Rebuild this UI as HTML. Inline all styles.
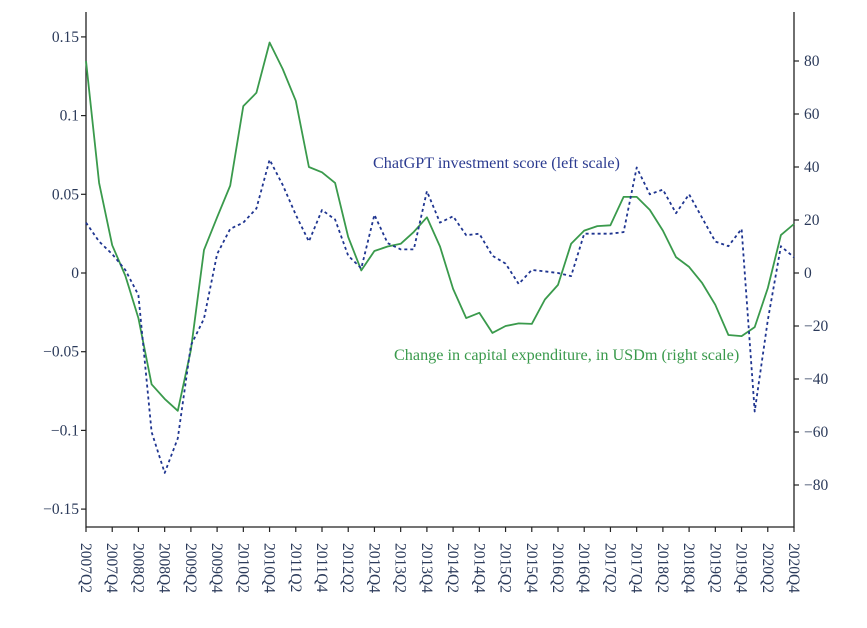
<!DOCTYPE html>
<html><head><meta charset="utf-8">
<style>
html,body{margin:0;padding:0;background:#fff;}
svg text{font-family:"Liberation Serif",serif;}
</style></head>
<body>
<svg id="chart" width="867" height="623" viewBox="0 0 867 623" xmlns="http://www.w3.org/2000/svg"></svg>
<script>
const quarters = [];
for (let y = 2007, q = 2; quarters.length < 55; ) { quarters.push(y + 'Q' + q); q++; if (q > 4) { q = 1; y++; } }
const scoreValues = [0.032,0.020,0.012,0.002,-0.014,-0.101,-0.127,-0.105,-0.046,-0.029,0.012,0.028,0.032,0.041,0.072,0.056,0.037,0.020,0.040,0.034,0.011,0.003,0.037,0.019,0.015,0.015,0.052,0.032,0.036,0.024,0.025,0.011,0.006,-0.007,0.002,0.001,0.000,-0.002,0.025,0.025,0.025,0.026,0.067,0.050,0.053,0.038,0.050,0.035,0.020,0.017,0.028,-0.088,-0.030,0.017,0.010];
const capexValues = [80,34,10.5,-1,-17,-42,-47.5,-52,-29,8.7,21,33,63,68,87,77,65,40,38,34,13.6,1,8.3,10,11,15.5,21,10,-6,-17,-15,-22.6,-20,-19,-19.2,-10,-4.5,11,16,17.7,18,28.7,28.7,23.8,16,6,2.3,-3.8,-12,-23.4,-23.8,-20.4,-5.7,14.3,18.5];
const leftTicks = [0.15,0.1,0.05,0,-0.05,-0.1,-0.15];
const leftTickLabels = ["0.15","0.1","0.05","0","\u22120.05","\u22120.1","\u22120.15"];
const rightTicks = [80,60,40,20,0,-20,-40,-60,-80];
const rightTickLabels = ["80","60","40","20","0","\u221220","\u221240","\u221260","\u221280"];

const NS = "http://www.w3.org/2000/svg";
const svg = document.getElementById('chart');
const X0 = 86, X1 = 794, YT = 12, YB = 527;
const xScale = i => X0 + i * (X1 - X0) / (quarters.length - 1);
const yLeft = v => 273 - v * 1574;
const yRight = v => 273 - v * 2.65;
const TXT = "#2b3a5a";
function el(tag, attrs) { const e = document.createElementNS(NS, tag); for (const k in attrs) e.setAttribute(k, attrs[k]); svg.appendChild(e); return e; }

const axes = el('path', {d:`M${X0},${YT}V${YB}H${X1}V${YT}`, fill:'none', stroke:'#222', 'stroke-width':1.3});



leftTicks.forEach((v, i) => {
  const y = yLeft(v);
  const t = el('line', {x1:X0-5, x2:X0, y1:y, y2:y, stroke:'#222', 'stroke-width':1.2});
  
  
  const l = el('text', {x:X0-7, y:y+5, 'text-anchor':'end', 'font-size':15.5, fill:TXT});
  l.textContent = leftTickLabels[i];
  
  
});
rightTicks.forEach((v, i) => {
  const y = yRight(v);
  const t = el('line', {x1:X1, x2:X1+5, y1:y, y2:y, stroke:'#222', 'stroke-width':1.2});
  
  
  const l = el('text', {x:X1+10, y:y+5, 'text-anchor':'start', 'font-size':15.5, fill:TXT});
  l.textContent = rightTickLabels[i];
  
  
});
quarters.forEach((q, i) => {
  if (i % 2) return;
  const x = xScale(i);
  const t = el('line', {x1:x, x2:x, y1:YB, y2:YB+5, stroke:'#222', 'stroke-width':1.2});
  
  
  const l = el('text', {x:0, y:0, 'font-size':15.5, fill:TXT, transform:`translate(${x-5},${YB+16}) rotate(90)`});
  l.textContent = q;
  
  
});

const gPts = capexValues.map((v, i) => xScale(i).toFixed(1) + ',' + yRight(v).toFixed(1)).join(' ');
const gLine = el('polyline', {points:gPts, fill:'none', stroke:'#3a9a4c', 'stroke-width':1.8, 'stroke-linejoin':'round'});



const bPts = scoreValues.map((v, i) => xScale(i).toFixed(1) + ',' + yLeft(v).toFixed(1)).join(' ');
const bLine = el('polyline', {points:bPts, fill:'none', stroke:'#1f3590', 'stroke-width':1.8, 'stroke-dasharray':'3,3', 'stroke-linejoin':'round'});



const lb = el('text', {x:373, y:168, 'font-size':16.2, fill:'#2b3b90'});
lb.textContent = 'ChatGPT investment score (left scale)';


const lg = el('text', {x:394, y:360, 'font-size':16.2, fill:'#3a9a4c'});
lg.textContent = 'Change in capital expenditure, in USDm (right scale)';


</script>
</body></html>
